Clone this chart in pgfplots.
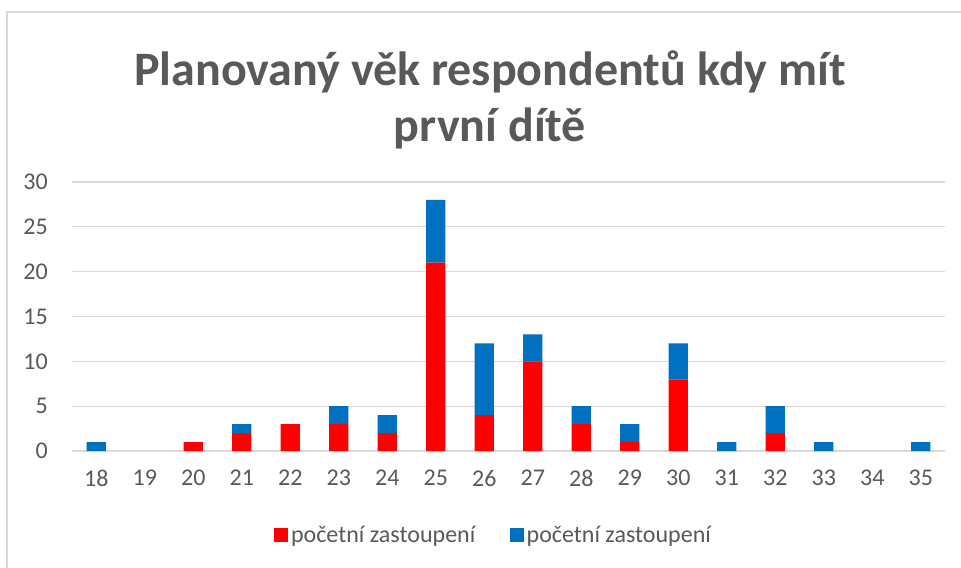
\documentclass[border=0pt]{standalone}
\usepackage{fontspec}
\setmainfont{Carlito}
\usepackage{pgfplots}
\usepackage{pgfplotstable}
\pgfplotsset{compat=1.18}
\definecolor{txt}{HTML}{595959}
\definecolor{gridc}{HTML}{D9D9D9}
\definecolor{cred}{HTML}{FF0000}
\definecolor{cblue}{HTML}{0070C0}
\pgfplotstableread{
x red blue
0 0 1
1 0 0
2 1 0
3 2 1
4 3 0
5 3 2
6 2 2
7 21 7
8 4 8
9 10 3
10 3 2
11 1 2
12 8 4
13 0 1
14 2 3
15 0 1
16 0 0
17 0 1
}\data
\begin{document}
\begin{tikzpicture}
\useasboundingbox (0,0) rectangle (720.75pt,426pt);
\draw[gridc, line width=1.1pt] (5.25pt,0pt) -- (5.25pt,417pt) -- (721pt,417pt);
\node[anchor=base, text=txt, font=\fontsize{36}{40}\selectfont\bfseries] at (367.5pt,361.5pt) {Planovaný věk respondentů kdy mít};
\node[anchor=base, text=txt, font=\fontsize{36}{40}\selectfont\bfseries] at (367.5pt,320pt) {první dítě};
\begin{axis}[
  at={(54pt,87.75pt)}, anchor=south west,
  scale only axis, width=654.75pt, height=201.75pt,
  ybar stacked, bar width=14.6pt,
  xmin=-0.5, xmax=17.5, ymin=0, ymax=30,
  enlargelimits=false,
  xtick={0,...,17},
  xticklabels={18,19,20,21,22,23,24,25,26,27,28,29,30,31,32,33,34,35},
  ytick={0,5,...,30},
  /pgf/number format/assume math mode=true,
  axis line style={draw=none},
  major tick length=0pt,
  ymajorgrids, grid style={gridc, line width=0.9pt},
  tick label style={text=txt, font=\fontsize{18}{21}\selectfont},
  yticklabel style={anchor=east, inner sep=0pt, xshift=-18pt},
  xticklabel style={anchor=north, inner sep=0pt, yshift=-14pt},
  legend columns=2,
  legend style={draw=none, at={(0.4834,-0.3123)}, anchor=center,
    font=\fontsize{18}{21}\selectfont, text=txt,
    /tikz/every even column/.append style={column sep=24pt},
    legend cell align=left},
  legend image code/.code={\fill[#1] (0pt,-5.25pt) rectangle (10.5pt,5.25pt);},
]
\addplot[fill=cred, draw=none] table[x=x, y=red] {\data};
\addplot[fill=cblue, draw=none] table[x=x, y=blue] {\data};
\legend{početní zastoupení, početní zastoupení}
\end{axis}
\end{tikzpicture}
\end{document}
